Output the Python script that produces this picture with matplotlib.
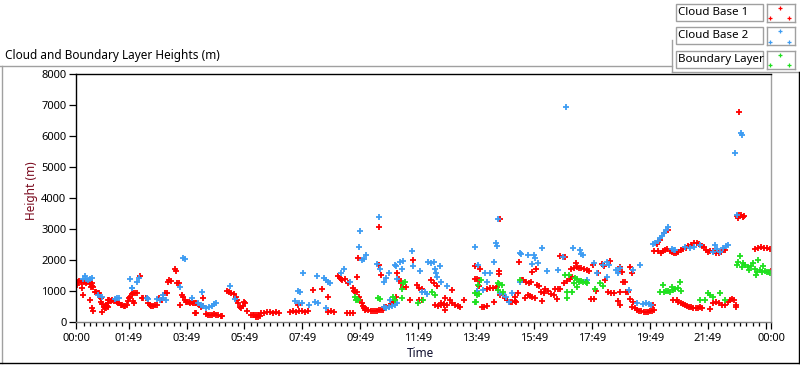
import numpy as np
import matplotlib
matplotlib.use('Agg')
import matplotlib.pyplot as plt
from matplotlib.lines import Line2D
from matplotlib.patches import Rectangle

plt.rcParams['font.family'] = ['Noto Sans', 'DejaVu Sans']

# (time of day in hours, height in m)
cloud_base_1 = np.array([
    (0.00, 1250), (0.05, 1200), (0.08, 1300), (0.12, 1330), (0.17, 1280), (0.22, 1290), (0.28, 1300),
    (0.33, 1270), (0.38, 1300), (0.45, 1290), (0.50, 1300), (0.55, 1260), (0.20, 1090), (0.25, 860),
    (0.52, 1120), (0.56, 1150), (0.60, 1120), (0.66, 960), (0.70, 980), (0.75, 950), (0.80, 930),
    (0.48, 700), (0.54, 440), (0.60, 360), (0.83, 800), (0.87, 780), (0.85, 640), (0.90, 570),
    (0.95, 500), (1.00, 460), (1.05, 450), (1.10, 470), (0.89, 320), (1.02, 560), (1.08, 520),
    (1.12, 600), (1.10, 700), (1.15, 710), (1.20, 690), (1.25, 700), (1.30, 690), (1.35, 700),
    (1.40, 640), (1.45, 620), (1.50, 600), (1.55, 560), (1.60, 540), (1.65, 530), (1.70, 530),
    (1.75, 540), (1.78, 680), (1.82, 770), (1.86, 800), (1.93, 900), (1.98, 930), (2.05, 920),
    (2.10, 940), (1.98, 670), (2.00, 620), (2.21, 1480), (2.28, 770), (2.33, 760), (2.40, 780),
    (2.45, 760), (2.50, 600), (2.55, 540), (2.60, 520), (2.65, 520), (2.72, 540), (2.78, 560),
    (2.85, 760), (2.92, 720), (2.96, 700), (3.07, 920), (3.13, 950), (3.18, 1300), (3.22, 1350),
    (3.28, 1320), (3.42, 1700), (3.45, 1650), (3.50, 1250), (3.55, 1260), (3.59, 540), (3.66, 860),
    (3.70, 800), (3.75, 720), (3.80, 660), (3.85, 640), (3.90, 650), (3.95, 620), (4.00, 630),
    (4.05, 620), (4.10, 600), (4.15, 610), (4.20, 580), (4.11, 280), (4.15, 300), (4.40, 760),
    (4.28, 540), (4.33, 500), (4.40, 530), (4.50, 250), (4.55, 230), (4.62, 220), (4.70, 240),
    (4.78, 260), (4.85, 240), (4.92, 220), (5.00, 200), (5.05, 190), (5.22, 990), (5.28, 970),
    (5.35, 940), (5.45, 900), (5.52, 820), (5.56, 720), (5.60, 600), (5.65, 500), (5.70, 460),
    (5.75, 520), (5.80, 640), (5.85, 620), (5.92, 340), (6.05, 220), (6.10, 220), (6.15, 210),
    (6.20, 170), (6.22, 240), (6.28, 160), (6.30, 220), (6.35, 200), (6.40, 290), (6.50, 300),
    (6.60, 320), (6.70, 310), (6.80, 300), (6.90, 310), (7.00, 300), (7.40, 330), (7.50, 340),
    (7.60, 330), (7.70, 340), (7.80, 340), (7.90, 330), (8.00, 340), (7.65, 540), (8.20, 1020),
    (8.50, 1080), (8.70, 800), (8.70, 330), (8.80, 360), (8.90, 320), (9.05, 1500), (9.10, 1420),
    (9.15, 1380), (9.20, 1350), (9.28, 1400), (9.40, 1250), (9.35, 280), (9.45, 290), (9.55, 300),
    (9.56, 1090), (9.60, 1000), (9.65, 960), (9.70, 980), (9.70, 1440), (9.74, 2060), (9.78, 800),
    (9.82, 700), (9.86, 600), (9.90, 520), (9.94, 460), (9.98, 400), (10.02, 430), (10.10, 400),
    (10.18, 370), (10.26, 350), (10.34, 340), (10.40, 350), (10.47, 3060), (10.45, 380), (10.52, 390),
    (10.60, 400), (10.48, 1830), (10.54, 1510), (10.65, 470), (10.72, 500), (10.80, 530), (10.88, 580),
    (10.95, 640), (11.00, 700), (11.05, 800), (11.10, 1570), (11.15, 1400), (11.22, 1250), (11.30, 1120),
    (11.40, 1120), (11.52, 700), (11.63, 1990), (11.78, 1190), (11.85, 1100), (11.95, 1050), (11.85, 700),
    (11.95, 700), (12.25, 1350), (12.35, 1250), (12.45, 1150), (12.40, 540), (12.50, 520), (12.60, 560),
    (12.70, 540), (12.80, 540), (12.75, 770), (12.60, 620), (12.70, 580), (12.74, 380), (12.91, 700),
    (13.00, 620), (13.10, 560), (13.20, 520), (13.25, 480), (13.00, 1020), (13.40, 700), (13.78, 1800),
    (13.78, 1400), (13.85, 1380), (13.92, 1350), (13.90, 1150), (13.95, 1700), (14.02, 500), (14.10, 480),
    (14.18, 520), (14.20, 1060), (14.30, 1090), (14.40, 1100), (14.50, 1090), (14.55, 1120), (14.45, 640),
    (14.60, 1650), (14.62, 1560), (14.65, 860), (14.64, 3310), (14.81, 770), (14.90, 700), (15.00, 640),
    (15.05, 660), (15.15, 690), (15.20, 660), (15.15, 800), (15.27, 930), (15.31, 1950), (15.40, 1350),
    (15.45, 1350), (15.55, 1300), (15.65, 1260), (15.72, 1280), (15.50, 760), (15.60, 860), (15.68, 830),
    (15.75, 800), (15.85, 790), (15.75, 1610), (15.90, 1700), (15.92, 1180), (16.00, 1150), (16.05, 960),
    (16.15, 930), (16.08, 670), (16.20, 1050), (16.30, 1000), (16.40, 900), (16.50, 870), (16.55, 1060),
    (16.65, 1080), (16.72, 1050), (16.62, 740), (16.72, 2130), (16.80, 2110), (16.90, 2090), (16.85, 1260),
    (16.95, 1330), (17.05, 1400), (17.12, 1450), (17.10, 1700), (17.20, 1740), (17.30, 1770), (17.38, 1740),
    (17.25, 1900), (17.45, 1740), (17.55, 1700), (17.65, 1680), (17.70, 1660), (17.78, 750), (17.88, 730),
    (17.85, 1830), (17.95, 1000), (18.02, 1580), (18.15, 1880), (18.25, 1820), (18.27, 1350), (18.38, 960),
    (18.48, 940), (18.58, 930), (18.43, 1960), (18.70, 670), (18.78, 560), (18.78, 1780), (18.85, 1600),
    (18.80, 960), (18.89, 1290), (18.95, 1300), (19.05, 960), (19.13, 1790), (19.19, 1570), (19.01, 970),
    (19.13, 750), (19.24, 650), (19.19, 490), (19.30, 440), (19.38, 400), (19.45, 370), (19.52, 350),
    (19.60, 330), (19.68, 320), (19.75, 330), (19.82, 340), (19.90, 350), (19.96, 380), (19.92, 540),
    (19.96, 2290), (20.06, 2510), (20.17, 2640), (20.30, 2860), (20.45, 2970), (20.10, 2300), (20.20, 2230),
    (20.28, 2290), (20.35, 2330), (20.42, 2350), (20.50, 2300), (20.58, 2250), (20.65, 2240), (20.72, 2230),
    (20.80, 2270), (20.88, 2310), (20.95, 2360), (21.05, 2400), (21.15, 2440), (21.25, 2480), (21.35, 2540),
    (21.45, 2560), (21.52, 2520), (21.60, 2450), (21.68, 2430), (21.75, 2330), (21.82, 2260), (21.90, 2280),
    (22.00, 2300), (22.10, 2240), (22.20, 2220), (22.28, 2260), (22.40, 2330), (20.62, 700), (20.75, 700),
    (20.80, 640), (20.88, 610), (20.95, 580), (21.02, 540), (21.10, 520), (21.18, 490), (21.25, 470),
    (21.32, 450), (21.40, 440), (21.48, 460), (21.55, 480), (21.62, 450), (21.90, 430), (22.00, 620),
    (22.10, 640), (22.20, 610), (22.30, 540), (22.40, 540), (22.50, 650), (22.58, 720), (22.65, 750),
    (22.72, 700), (22.80, 540), (22.78, 470), (22.88, 6780), (22.82, 3420), (22.88, 3450), (22.95, 3440),
    (23.02, 3400), (23.08, 3410), (22.85, 3350), (23.45, 2350), (23.55, 2380), (23.65, 2410), (23.75, 2400),
    (23.85, 2380), (23.95, 2360), (24.00, 2350), (24.00, 1640),
])

cloud_base_2 = np.array([
    (0.24, 1400), (0.30, 1470), (0.36, 1380), (0.42, 1340), (0.50, 1380), (0.55, 1420), (0.77, 860),
    (0.89, 810), (1.35, 730), (1.42, 760), (1.50, 790), (1.87, 1380), (1.92, 1090), (1.95, 1100),
    (2.09, 1280), (2.16, 1410), (2.45, 770), (2.50, 730), (2.80, 740), (2.90, 720), (3.00, 760),
    (3.00, 860), (3.12, 700), (3.59, 1120), (3.70, 2060), (3.77, 2020), (4.00, 790), (4.35, 960),
    (4.22, 600), (4.30, 560), (4.40, 520), (4.50, 450), (4.60, 470), (4.68, 520), (4.78, 590),
    (4.85, 610), (5.32, 1150), (5.48, 730), (7.56, 670), (7.65, 1000), (7.72, 970), (7.84, 1570),
    (7.70, 600), (7.80, 620), (8.05, 560), (8.25, 640), (8.35, 620), (8.32, 1480), (8.55, 1410),
    (8.62, 1350), (8.70, 1300), (8.78, 1260), (8.65, 440), (9.15, 1580), (9.25, 1710), (9.46, 1290),
    (9.81, 2940), (9.76, 2420), (9.87, 2000), (9.93, 2030), (10.01, 2160), (10.45, 3380), (10.40, 1860),
    (10.50, 1700), (10.62, 1300), (10.70, 1410), (10.82, 1570), (10.62, 480), (10.70, 450), (10.80, 480),
    (10.90, 520), (11.00, 560), (11.08, 600), (10.84, 700), (11.00, 1830), (11.05, 1800), (11.08, 1380),
    (11.20, 1930), (11.29, 1960), (11.25, 1700), (11.60, 2290), (11.64, 1800), (11.88, 1640), (11.95, 960),
    (12.05, 960), (12.12, 900), (12.15, 1930), (12.25, 1900), (12.36, 1930), (12.40, 1700), (12.43, 1580),
    (12.45, 1450), (12.57, 1800), (12.60, 1280), (12.80, 1150), (13.78, 2420), (13.88, 1830), (13.85, 990),
    (14.05, 1030), (14.12, 1580), (14.18, 1300), (14.30, 1580), (14.43, 1930), (14.50, 2540), (14.55, 2440),
    (14.58, 3310), (14.65, 930), (14.75, 900), (14.85, 800), (14.95, 640), (15.05, 930), (15.33, 1300),
    (15.33, 2220), (15.38, 2200), (15.61, 2160), (15.80, 2150), (15.85, 2080), (15.75, 1860), (15.95, 1900),
    (16.10, 2380), (16.25, 1640), (16.65, 1680), (16.82, 2090), (16.92, 6940), (17.17, 2380), (17.40, 2320),
    (17.43, 2180), (17.50, 2150), (17.63, 1350), (17.90, 1900), (18.00, 1570), (18.20, 1830), (18.35, 1930),
    (18.40, 1840), (18.33, 1450), (18.65, 1670), (18.72, 1580), (18.78, 1740), (19.08, 1030), (19.23, 1670),
    (19.48, 1830), (19.36, 600), (19.58, 570), (19.68, 600), (19.78, 590), (19.85, 560), (19.91, 2510),
    (20.00, 2560), (20.10, 2620), (20.18, 2700), (20.25, 2790), (20.32, 2880), (20.38, 2960), (20.43, 3060),
    (20.58, 2370), (20.65, 2320), (20.70, 2330), (21.03, 2410), (21.20, 2390), (21.34, 2420), (21.55, 2480),
    (22.00, 2250), (22.06, 2500), (22.13, 2350), (22.25, 2260), (22.35, 2400), (22.45, 2450), (22.52, 2500),
    (22.76, 5460), (22.96, 6100), (22.99, 6040), (22.82, 3450),
])

boundary_layer = np.array([
    (9.63, 800), (9.68, 720), (9.70, 750), (9.74, 700), (10.43, 770), (10.50, 740), (10.95, 810),
    (11.00, 700), (11.25, 1080), (11.30, 1250), (11.36, 1300), (11.25, 770), (11.82, 600), (11.99, 700),
    (12.28, 970), (12.40, 860), (13.78, 930), (13.85, 880), (13.90, 900), (13.78, 650), (13.82, 640),
    (13.88, 1190), (14.00, 1350), (14.57, 1250), (14.62, 1220), (14.70, 1200), (14.57, 1030), (14.74, 970),
    (15.33, 1350), (16.89, 1510), (17.02, 1510), (16.95, 960), (16.95, 770), (17.12, 960), (17.20, 1250),
    (17.23, 1410), (17.30, 1380), (17.29, 1130), (17.38, 1300), (17.45, 1330), (17.52, 1280), (17.60, 1300),
    (17.65, 1250), (17.92, 1080), (18.10, 1250), (18.20, 1150), (20.17, 970), (20.28, 1190), (20.30, 960),
    (20.38, 1000), (20.45, 990), (20.52, 980), (20.57, 1130), (20.62, 1030), (20.70, 1060), (20.78, 1100),
    (20.86, 1290), (20.90, 1000), (21.55, 700), (21.72, 700), (21.82, 930), (21.90, 860), (22.00, 800),
    (22.24, 930), (22.41, 700), (22.86, 1930), (22.93, 2130), (22.82, 1850), (22.99, 1770), (23.03, 1900),
    (23.10, 1830), (23.20, 1770), (23.24, 1670), (23.30, 1800), (23.38, 1900), (23.45, 1700), (23.48, 1510),
    (23.51, 1610), (23.55, 2000), (23.62, 1670), (23.68, 1600), (23.72, 1800), (23.78, 1640), (23.85, 1600),
    (23.92, 1620), (23.96, 1580),
])

series_names = ['Cloud Base 1', 'Cloud Base 2', 'Boundary Layer']
series_colors = ['#ff0000', '#3d9cf2', '#1fe01f']
y_ticks = [0, 1000, 2000, 3000, 4000, 5000, 6000, 7000, 8000]
x_major = [0, 1 + 49/60] + [1 + 49/60 + 2*k for k in range(1, 12)] + [24]
x_labels = ['00:00', '01:49', '03:49', '05:49', '07:49', '09:49', '11:49', '13:49',
            '15:49', '17:49', '19:49', '21:49', '', '00:00']

W, H = 800, 365
def fx(x): return x / W
def fy(y): return 1 - y / H

fig = plt.figure(figsize=(8, 3.65), dpi=100)
fig.patch.set_facecolor('white')
ax = fig.add_axes([fx(76), fy(322), 695 / W, (322 - 74) / H])

for pts, col in zip((cloud_base_1, cloud_base_2, boundary_layer), series_colors):
    ax.plot(pts[:, 0], pts[:, 1], ls='none', marker='+', ms=3.8, mew=1.3, color=col)

ax.set_xlim(0, 24)
ax.set_ylim(0, 8000)
ax.set_yticks(y_ticks)
ax.set_xticks(x_major)
ax.set_xticklabels(x_labels)
minor = [-(11/60) + n * 2/9 for n in range(1, 110)]
minor = [m for m in minor if 0 < m < 24 and min(abs(m - M) for M in x_major) > 0.05]
ax.set_xticks(minor, minor=True)

ax.tick_params(axis='y', length=5, width=0.9, pad=2, labelsize=8)
ax.tick_params(axis='x', which='major', length=5, width=0.9, pad=3, labelsize=8)
ax.tick_params(axis='x', which='minor', length=3, width=0.9)

ax.spines['left'].set_color('black')
ax.spines['top'].set_color('black')
ax.spines['right'].set_color('#a0a0a0')
ax.spines['bottom'].set_color('#808080')
for s in ax.spines.values():
    s.set_linewidth(1.0)

ax.set_xlabel('Time', fontsize=8.5, color='#101030', va='center')
ax.xaxis.set_label_coords(0.496, -0.1255)
ax.set_ylabel('Height (m)', fontsize=8.5, color='#7a0a1e', va='center')
ax.yaxis.set_label_coords(-0.0647, 0.528)

fig.text(fx(5), fy(59), 'Cloud and Boundary Layer Heights (m)', fontsize=8.5, va='baseline', ha='left')

# panel frame lines
frame = [
    ([0, 672], [65.5, 65.5], '#a0a0a0'),
    ([672, 672], [40, 72], '#a0a0a0'),
    ([672, 800], [72, 72], '#a0a0a0'),
    ([2, 2], [65.5, 363], '#a0a0a0'),
    ([0, 800], [363, 363], 'black'),
    ([799, 799], [72, 363], 'black'),
]
for xs, ys, c in frame:
    fig.add_artist(Line2D([fx(v) for v in xs], [fy(v) for v in ys], color=c, lw=1.0))

# legend
for i, (name, col) in enumerate(zip(series_names, series_colors)):
    top = 4 + i * 23.3
    fig.add_artist(Rectangle((fx(676), fy(top + 17)), 87 / W, 17 / H, transform=fig.transFigure,
                             fc='white', ec='#a0a0a0', lw=1.0))
    fig.text(fx(678), fy(top + 8.5), name, fontsize=8.3, va='center', ha='left')
    sax = fig.add_axes([fx(767), fy(top + 18), 28 / W, 18 / H])
    sax.set_xlim(0, 1)
    sax.set_ylim(0, 1)
    sax.plot([0.45, 0.09, 0.8], [0.77, 0.21, 0.21], ls='none', marker='+', ms=3.5, mew=0.9, color=col)
    sax.set_xticks([])
    sax.set_yticks([])
    for s in sax.spines.values():
        s.set_color('#a0a0a0')
        s.set_linewidth(1.0)

fig.savefig('out.png', dpi=100)
